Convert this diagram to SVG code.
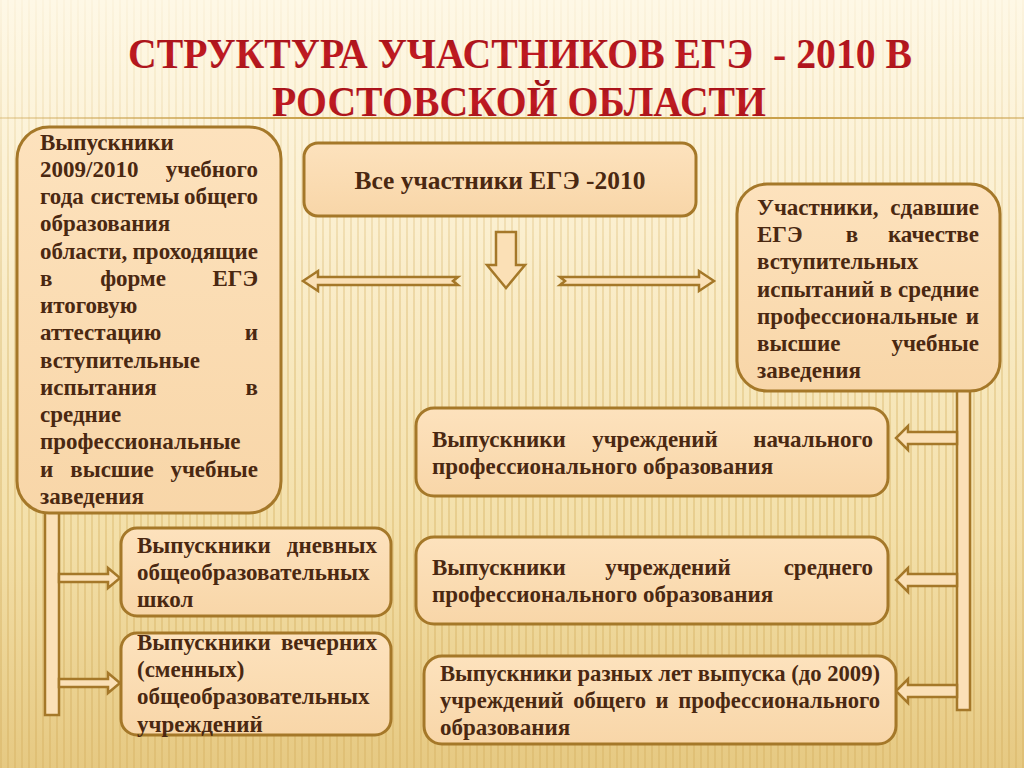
<svg xmlns="http://www.w3.org/2000/svg" width="1024" height="768" viewBox="0 0 1024 768">
<defs>
<linearGradient id="bg" x1="0" y1="0" x2="0" y2="1">
<stop offset="0" stop-color="#fef8e6"/>
<stop offset="0.3" stop-color="#fbefcf"/>
<stop offset="0.7" stop-color="#f3dfa8"/>
<stop offset="1" stop-color="#e6c982"/>
</linearGradient>
<pattern id="stripes" width="7" height="20" patternUnits="userSpaceOnUse">
<rect x="0" y="0" width="2" height="20" fill="#d6b264"/>
</pattern>
<linearGradient id="stripeFade" x1="0" y1="0" x2="0" y2="1">
<stop offset="0" stop-color="#fff" stop-opacity="0.05"/>
<stop offset="0.4" stop-color="#fff" stop-opacity="0.35"/>
<stop offset="1" stop-color="#fff" stop-opacity="0.45"/>
</linearGradient>
<mask id="stripeMask">
<rect width="1024" height="768" fill="url(#stripeFade)"/>
</mask>
<linearGradient id="rule" x1="0" y1="0" x2="1" y2="0">
<stop offset="0" stop-color="#c9a04a" stop-opacity="0.3"/>
<stop offset="0.3" stop-color="#c9a04a"/>
<stop offset="0.8" stop-color="#c9a04a"/>
<stop offset="1" stop-color="#c9a04a" stop-opacity="0.5"/>
</linearGradient>
<linearGradient id="boxFill" x1="0" y1="0" x2="0" y2="1">
<stop offset="0" stop-color="#fde2bd"/>
<stop offset="1" stop-color="#f8d6a8"/>
</linearGradient>
<linearGradient id="titleFill" x1="0" y1="0" x2="0" y2="1">
<stop offset="0" stop-color="#9c0f16"/>
<stop offset="0.5" stop-color="#c01a22"/>
<stop offset="1" stop-color="#a01218"/>
</linearGradient>
<style>
.box{fill:url(#boxFill);stroke:#a57829;stroke-width:3}
.conn{fill:#fbe0b6;stroke:#a57829;stroke-width:2.5;stroke-linejoin:miter}
.t{font-family:"Liberation Serif","Times New Roman",serif;font-weight:bold;font-size:23px;fill:#4a2811}
.e{text-anchor:end}
.m{text-anchor:middle}
.title{font-family:"Liberation Serif","Times New Roman",serif;font-weight:bold;font-size:42px;fill:url(#titleFill)}
</style>
</defs>

<rect width="1024" height="768" fill="url(#bg)"/>
<rect width="1024" height="768" fill="url(#stripes)" mask="url(#stripeMask)"/>
<rect x="0" y="117" width="1024" height="2" fill="url(#rule)"/>

<g id="title">
<text class="title" x="128" y="68" textLength="784" lengthAdjust="spacingAndGlyphs" xml:space="preserve">СТРУКТУРА УЧАСТНИКОВ ЕГЭ  - 2010 В</text>
<text class="title" x="272" y="116" textLength="494" lengthAdjust="spacingAndGlyphs">РОСТОВСКОЙ ОБЛАСТИ</text>
</g>

<g id="connectors">
<path class="conn" d="M496,232 L516,232 L516,265 L525,265 L506,288 L487,265 L496,265 Z"/>
<path class="conn" d="M303,281 L318,271 L318,277 L458,277 L453,281 L458,285 L318,285 L318,291 Z"/>
<path class="conn" d="M714,281 L699,271 L699,277 L560,277 L565,281 L560,285 L699,285 L699,291 Z"/>
<rect class="conn" x="45" y="508" width="14" height="207"/>
<path class="conn" d="M59,574 L108,574 L108,568 L120,578 L108,588 L108,582 L59,582 Z"/>
<path class="conn" d="M59,679 L108,679 L108,673 L120,683 L108,693 L108,687 L59,687 Z"/>
<rect class="conn" x="957" y="386" width="13" height="324"/>
<path class="conn" d="M957,432 L908,432 L908,426 L896,438 L908,450 L908,444 L957,444 Z"/>
<path class="conn" d="M957,574 L908,574 L908,568 L896,580 L908,592 L908,586 L957,586 Z"/>
<path class="conn" d="M957,685 L908,685 L908,679 L896,691 L908,703 L908,697 L957,697 Z"/>
</g>

<g id="node-left">
<rect class="box" x="17" y="127" width="264" height="386" rx="32"/>
<text class="t" x="40" y="150">Выпускники</text>
<text class="t" x="40" y="177">2009/2010</text><text class="t e" x="258" y="177">учебного</text>
<text class="t" x="40" y="204">года</text><text class="t m" x="135" y="204">системы</text><text class="t e" x="258" y="204">общего</text>
<text class="t" x="40" y="231">образования</text>
<text class="t" x="40" y="259">области,</text><text class="t e" x="258" y="259">проходящие</text>
<text class="t" x="40" y="286">в</text><text class="t m" x="133" y="286">форме</text><text class="t e" x="258" y="286">ЕГЭ</text>
<text class="t" x="40" y="313">итоговую</text>
<text class="t" x="40" y="340">аттестацию</text><text class="t e" x="258" y="340">и</text>
<text class="t" x="40" y="368">вступительные</text>
<text class="t" x="40" y="395">испытания</text><text class="t e" x="258" y="395">в</text>
<text class="t" x="40" y="422">средние</text>
<text class="t" x="40" y="449">профессиональные</text>
<text class="t" x="40" y="477">и</text><text class="t m" x="112" y="477">высшие</text><text class="t e" x="258" y="477">учебные</text>
<text class="t" x="40" y="504">заведения</text>
</g>

<g id="node-all">
<rect class="box" x="304" y="143" width="392" height="73" rx="14"/>
<text class="t m" x="500" y="189" style="font-size:25px" textLength="291" lengthAdjust="spacingAndGlyphs">Все участники ЕГЭ -2010</text>
</g>

<g id="node-right">
<rect class="box" x="737" y="184" width="263" height="207" rx="30"/>
<text class="t" x="757" y="215">Участники,</text><text class="t e" x="979" y="215">сдавшие</text>
<text class="t" x="757" y="242">ЕГЭ</text><text class="t m" x="852" y="242">в</text><text class="t e" x="979" y="242">качестве</text>
<text class="t" x="757" y="269">вступительных</text>
<text class="t" x="757" y="297" textLength="222" lengthAdjust="spacingAndGlyphs">испытаний в средние</text>
<text class="t" x="757" y="324">профессиональные</text><text class="t e" x="979" y="324">и</text>
<text class="t" x="757" y="351">высшие</text><text class="t e" x="979" y="351">учебные</text>
<text class="t" x="757" y="378">заведения</text>
</g>

<g id="node-npo">
<rect class="box" x="416" y="408" width="472" height="88" rx="18"/>
<text class="t" x="432" y="447">Выпускники</text><text class="t m" x="655" y="447">учреждений</text><text class="t e" x="873" y="447">начального</text>
<text class="t" x="432" y="474">профессионального образования</text>
</g>

<g id="node-spo">
<rect class="box" x="416" y="537" width="472" height="87" rx="18"/>
<text class="t" x="432" y="575">Выпускники</text><text class="t m" x="668" y="575">учреждений</text><text class="t e" x="873" y="575">среднего</text>
<text class="t" x="432" y="602">профессионального образования</text>
</g>

<g id="node-prev">
<rect class="box" x="424" y="656" width="472" height="88" rx="18"/>
<text class="t" x="440" y="681" textLength="440" lengthAdjust="spacingAndGlyphs">Выпускники разных лет выпуска (до 2009)</text>
<text class="t" x="440" y="708" textLength="440" lengthAdjust="spacingAndGlyphs" style="word-spacing:4px">учреждений общего и профессионального</text>
<text class="t" x="440" y="735">образования</text>
</g>

<g id="node-day">
<rect class="box" x="121" y="528" width="270" height="88" rx="16"/>
<text class="t" x="137" y="553">Выпускники</text><text class="t e" x="377" y="553">дневных</text>
<text class="t" x="137" y="580">общеобразовательных</text>
<text class="t" x="137" y="607">школ</text>
</g>

<g id="node-evening">
<rect class="box" x="121" y="633" width="270" height="102" rx="16"/>
<text class="t" x="137" y="650">Выпускники</text><text class="t e" x="377" y="650">вечерних</text>
<text class="t" x="137" y="677">(сменных)</text>
<text class="t" x="137" y="704">общеобразовательных</text>
<text class="t" x="137" y="732">учреждений</text>
</g>
</svg>
